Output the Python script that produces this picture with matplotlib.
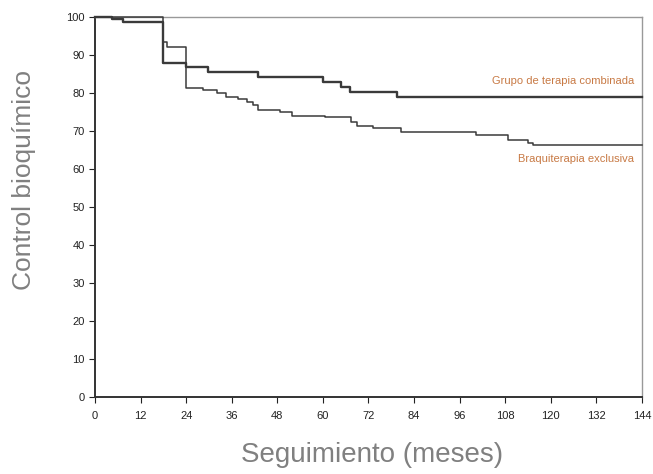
import matplotlib.pyplot as plt

# Curvas de control bioquímico (Kaplan-Meier, lectura aproximada)
meses_comb = [0, 4.4, 7.5, 17.8, 23.9, 29.8, 43, 59.9, 64.9, 67.1, 79.4, 144]
control_comb = [100, 99.6, 98.8, 88.0, 86.9, 85.6, 84.3, 83.0, 81.5, 80.3, 78.9, 78.9]

meses_braq = [0, 17.8, 18.9, 23.9, 28.5, 32, 34.6, 37.7, 39.9, 41.7, 43, 48.7,
              51.8, 60.5, 67.5, 68.9, 73.2, 80.7, 100.4, 108.8, 114, 115.3, 144]
control_braq = [100, 93.5, 92.2, 81.2, 80.8, 79.9, 79.0, 78.3, 77.7, 76.8, 75.5, 75.1,
                74.0, 73.6, 72.4, 71.3, 70.7, 69.7, 68.9, 67.6, 66.9, 66.3, 66.3]

xticks = list(range(0, 145, 12))
yticks = list(range(0, 101, 10))

plt.rcParams['font.family'] = ['Liberation Sans', 'DejaVu Sans']

fig = plt.figure(figsize=(6.53, 4.74), dpi=100)
ax = fig.add_axes([0.1455, 0.1624, 0.8375, 0.8017])

ax.step(meses_comb, control_comb, where='post', color='#3a3a3a', lw=1.7,
        clip_on=False, zorder=4)
ax.step(meses_braq, control_braq, where='post', color='#3a3a3a', lw=1.1,
        clip_on=False, zorder=4)

naranja = '#c87a45'
ax.text(142, 83.2, 'Grupo de terapia combinada', color=naranja, fontsize=8,
        ha='right', va='center')
ax.text(142, 62.6, 'Braquiterapia exclusiva', color=naranja, fontsize=8,
        ha='right', va='center')

ax.set_xlim(0, 144)
ax.set_ylim(0, 100)
ax.set_xticks(xticks)
ax.set_yticks(yticks)
ax.tick_params(direction='out', length=4, width=0.8, labelsize=8, colors='#222222')
ax.tick_params(axis='x', pad=6)

for lado in ['left', 'bottom']:
    ax.spines[lado].set_color('#333333')
    ax.spines[lado].set_linewidth(1.4)
for lado in ['top', 'right']:
    ax.spines[lado].set_color('#999999')
    ax.spines[lado].set_linewidth(1.0)

ax.set_xlabel('Seguimiento (meses)', fontsize=20, color='#808080', va='center')
ax.xaxis.set_label_coords(0.506, -0.153)
ax.set_ylabel('Control bioquímico', fontsize=19, color='#808080', va='center')
ax.yaxis.set_label_coords(-0.13, 0.571)

fig.savefig('out.png', dpi=100)
